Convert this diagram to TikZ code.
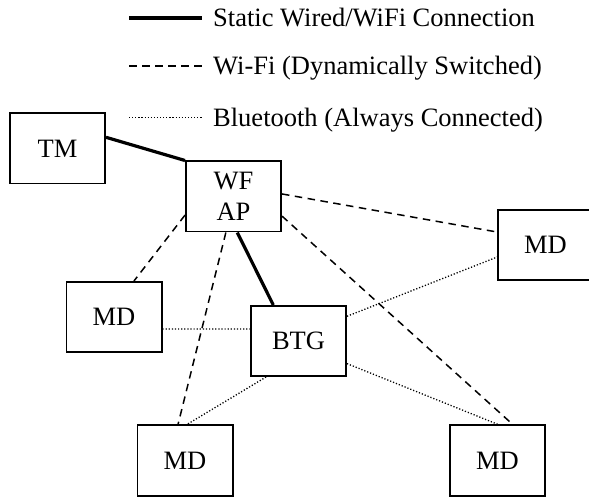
\documentclass[tikz,border=0pt]{standalone}
\usepackage{fontspec}
\setmainfont{Liberation Serif}
\usepackage{tikz}

\begin{document}
\begin{tikzpicture}[x=1pt, y=1pt,
    font=\fontsize{26.5}{31}\selectfont,
    box/.style={draw, line width=1.6pt, inner sep=0pt, minimum width=95.4pt, minimum height=70.4pt, align=center},
    wired/.style={line width=3.2pt},
    wifi/.style={line width=1.5pt, dash pattern=on 7.5pt off 5.5pt},
    bt/.style={line width=1.3pt, dash pattern=on 1.2pt off 1.9pt}]
    \useasboundingbox (0,0) rectangle (589,498);

    % legend
    \coordinate (l1a) at (129,480);
    \coordinate (l1b) at (202,480);
    \coordinate (l2a) at (129,432);
    \coordinate (l2b) at (202,432);
    \coordinate (l3a) at (129,380);
    \coordinate (l3b) at (202,380);
    \draw[wired] (l1a) -- (l1b);
    \draw[wifi] (l2a) -- (l2b);
    \draw[bt, line width=1pt] (l3a) -- (l3b);
    \node[anchor=base west, inner sep=0pt] (t1) at (213,471) {Static Wired/WiFi Connection};
    \node[anchor=base west, inner sep=0pt] (t2) at (213,423) {Wi-Fi (Dynamically Switched)};
    \node[anchor=base west, inner sep=0pt] (t3) at (213,371) {Bluetooth (Always Connected)};

    % devices
    \node[box] (tm) at (57.5,349.5) {TM};
    \node[box] (wf) at (233.5,301.5) {WF\\AP};
    \node[box] (mdr) at (545.5,253) {MD};
    \node[box] (mdl) at (114,181) {MD};
    \node[box] (btg) at (298.5,157) {BTG};
    \node[box] (mdbl) at (185,37.5) {MD};
    \node[box] (mdbr) at (497.5,37.5) {MD};

    % static links
    \draw[wired] (tm.13) -- (wf.north west);
    \draw[wired] (wf.-84) -- (btg.125);

    % wifi links
    \draw[wifi] (wf.3) -- (mdr.165);
    \draw[wifi] (wf.201) -- (mdl.61);
    \draw[wifi] (wf.258) -- (mdbl.101);
    \draw[wifi] (wf.-22) -- (mdbr.67);

    % bluetooth links
    \draw[bt] (mdl.-14) -- (btg.166);
    \draw[bt] (btg.27) -- (mdr.194);
    \draw[bt] (btg.228) -- (mdbl.87);
    \draw[bt] (btg.-25) -- (mdbr.89);
  \end{tikzpicture}
\end{document}
